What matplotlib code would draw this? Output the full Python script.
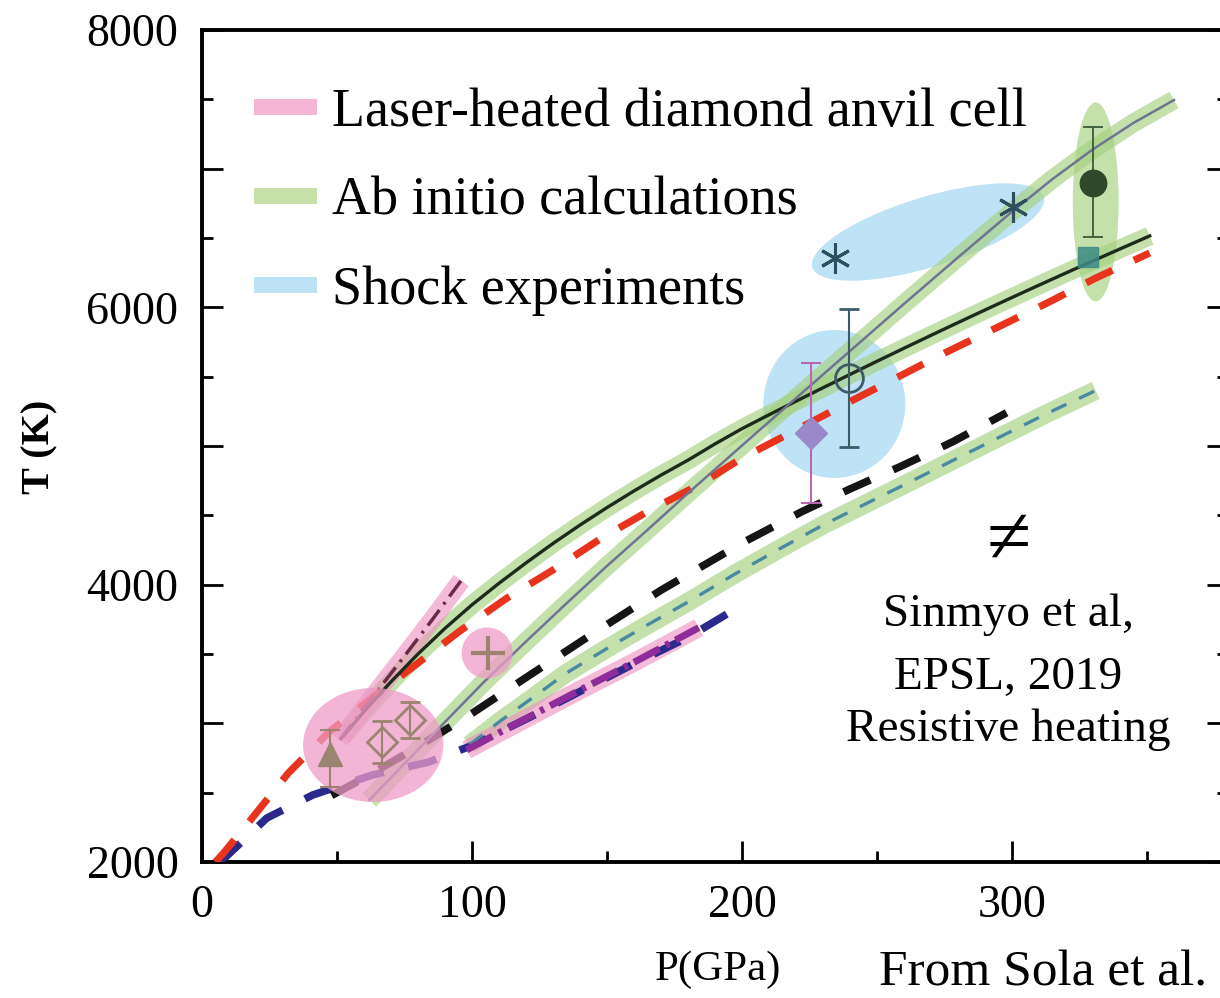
import numpy as np
import matplotlib
matplotlib.use("Agg")
import matplotlib.pyplot as plt
from matplotlib.patches import Ellipse
from matplotlib.lines import Line2D
from matplotlib.transforms import ScaledTranslation
from matplotlib.ticker import FixedLocator, FuncFormatter

plt.rcParams['font.family'] = ['Liberation Serif', 'DejaVu Serif']
plt.rcParams['lines.scale_dashes'] = False

# --- melting curves (P in GPa, T in K) ---
# ab initio, upper curve (solid black)
abi1_p = [52, 60, 70, 80, 90, 100, 110, 120, 130, 140, 150, 160, 170, 180, 190, 200,
          210, 220, 230, 240, 250, 260, 270, 280, 290, 300, 310, 320, 330, 340, 351]
abi1_t = [2900, 3085, 3300, 3500, 3685, 3855, 4010, 4157, 4297, 4430, 4556, 4676, 4790, 4898, 5015, 5125,
          5225, 5323, 5420, 5516, 5611, 5705, 5798, 5890, 5981, 6071, 6160, 6248, 6335, 6421, 6515]
# ab initio, steep curve (slate)
abi2_p = [62, 75, 90, 104, 120, 135, 150, 165, 180, 203, 220, 240, 260, 280, 300, 315, 330, 345, 360]
abi2_t = [2447, 2710, 3010, 3290, 3590, 3865, 4135, 4395, 4660, 5055, 5345, 5685, 6025, 6360, 6690,
          6925, 7140, 7330, 7495]
# ab initio, lower curve (teal dashed)
abi3_p = [99, 110, 120, 135, 150, 165, 180, 198, 215, 230, 245, 259, 278, 296, 313, 331]
abi3_t = [2844, 3010, 3150, 3363, 3540, 3710, 3875, 4084, 4270, 4430, 4575, 4710, 4895, 5070, 5235, 5400]
# red dashed
red_p = [5, 8, 18, 32, 47, 63, 80, 96, 113, 130, 148, 166, 184, 200, 220, 239, 257, 275, 294, 313, 331, 351]
red_t = [2000, 2065, 2303, 2642, 2937, 3183, 3435, 3673, 3904, 4106, 4336, 4538, 4719, 4913,
         5115, 5310, 5490, 5670, 5850, 6031, 6211, 6392]
# black dashed
blk_p = [48, 60, 76, 98, 120, 145, 170, 200, 222, 240, 259, 278, 298]
blk_t = [2480, 2605, 2786, 3046, 3330, 3650, 3960, 4300, 4525, 4690, 4855, 5030, 5240]
# navy dashed
navy_p = [6, 9, 24, 41, 63, 84, 100, 120, 140, 160, 180, 201]
navy_t = [2000, 2040, 2317, 2483, 2627, 2721, 2840, 3030, 3230, 3430, 3620, 3865]
# LH-DAC, lower (purple dash-dot)
lh1_p = [98, 120, 140, 160, 184]
lh1_t = [2808, 3035, 3240, 3440, 3690]
# LH-DAC, upper (maroon dash-dot)
lh2_p = [51, 62, 74, 85, 96]
lh2_t = [2880, 3160, 3460, 3740, 4030]

# --- individual measurements ---
tri_p, tri_t, tri_lo, tri_hi = 47.4, 2780, 240, 170
dia_p = [66.7, 77.1]
dia_t = [2865, 3024]
dia_err = [150, 130]
plus_p, plus_t = 106, 3510
pdia_p, pdia_t, pdia_err = 225.4, 5094, 505
ocirc_p, ocirc_t, ocirc_err = 239.8, 5490, 500
star_p = [234.6, 300.2]
star_t = [6356, 6723]
gdot_p, gdot_t, gdot_lo, gdot_hi = 329.9, 6896, 390, 405
sq_p, sq_t = 328, 6363

legend_labels = ['Laser-heated diamond anvil cell', 'Ab initio calculations', 'Shock experiments']

pink = '#F4B6D4'
green = '#C8E1A8'
blue = '#BEE3F6'
band_green = '#A5D17F'
band_pink = '#EE8FBF'

fig = plt.figure(figsize=(12.2, 9.98), dpi=100)
ax = fig.add_axes([202 / 1220, 136 / 998, 1026 / 1220, 832 / 998])
ax.set_xlim(0, 380)
ax.set_ylim(2000, 8000)

# shock experiment regions
ax.add_patch(Ellipse((234.2, 5303), 52.6, 1067, color=blue, lw=0, zorder=1))
ax.add_patch(Ellipse((0, 0), 2.42, 0.70, angle=17, color=blue, lw=0, zorder=1,
                     transform=fig.dpi_scale_trans + ScaledTranslation(268.9, 6543, ax.transData)))
# ab initio point region
ax.add_patch(Ellipse((331, 6760), 17, 1435, color=band_green, alpha=0.65, lw=0, zorder=2))

# uncertainty bands
for p, t in [(abi1_p, abi1_t), (abi2_p, abi2_t), (abi3_p, abi3_t)]:
    ax.plot(p, t, color=band_green, lw=13.5, alpha=0.65, solid_capstyle='butt', zorder=2)
for p, t in [(lh1_p, lh1_t), (lh2_p, lh2_t)]:
    ax.plot(p, t, color=band_pink, lw=13.5, alpha=0.6, solid_capstyle='butt', zorder=3)

# curves
ax.plot(navy_p, navy_t, color='#2B2A8C', lw=5.5, dashes=(21, 18), zorder=4)
ax.plot(red_p, red_t, color='#E8341C', lw=5.2, dashes=(21, 17), zorder=4)
ax.plot(blk_p, blk_t, color='#151515', lw=5.5, dashes=(21, 18), zorder=4)
ax.plot(abi1_p, abi1_t, color='#1E2A1A', lw=2.4, zorder=4)
ax.plot(abi2_p, abi2_t, color='#6F7590', lw=1.8, zorder=4)
ax.plot(abi3_p, abi3_t, color='#4A8AA0', lw=2.4, dashes=(12, 10), zorder=4)
ax.plot(lh1_p, lh1_t, color='#8E2C9A', lw=5, dashes=(21, 5, 3, 5), zorder=5)
ax.plot(lh2_p, lh2_t, color='#6B2B48', lw=2.5, dashes=(14, 5, 2, 5), zorder=5)

# LH-DAC point regions drawn over the curves
ax.add_patch(Ellipse((63.4, 2844), 51.9, 822, color='#EE9CC8', alpha=0.75, lw=0, zorder=6))
ax.add_patch(Ellipse((105.6, 3507), 18.9, 368, color='#EE9CC8', alpha=0.75, lw=0, zorder=6))

brown = '#9C8470'
ax.errorbar(tri_p, tri_t, yerr=[[tri_lo], [tri_hi]], fmt='^', color=brown, ms=17,
            elinewidth=1.5, capsize=7, capthick=1.5, zorder=7)
ax.errorbar(dia_p, dia_t, yerr=dia_err, fmt='D', mfc='none', mec=brown, ecolor=brown,
            ms=15, mew=2, elinewidth=1.5, capsize=7, capthick=1.5, zorder=7)
ax.plot(plus_p, plus_t, '+', color=brown, ms=24, mew=3, zorder=7)
ax.errorbar(pdia_p, pdia_t, yerr=pdia_err, fmt='D', color='#9A88C8', ecolor='#B868B0',
            ms=16, elinewidth=1.5, capsize=7, capthick=1.5, zorder=7)
ax.errorbar(ocirc_p, ocirc_t, yerr=ocirc_err, fmt='o', mfc='none', mec='#3C5A68', ecolor='#3C5A68',
            ms=20, mew=2, elinewidth=1.5, capsize=7, capthick=2, zorder=7)
ax.plot(star_p, star_t, ls='none', marker=(6, 2, 0), color='#2E4F5E', ms=22, mew=2.2, zorder=7)
ax.errorbar(gdot_p, gdot_t, yerr=[[gdot_lo], [gdot_hi]], fmt='o', color='#2F4A28', ecolor='#3B5A38',
            ms=19, elinewidth=1.3, capsize=7, capthick=1.3, zorder=7)
ax.plot(sq_p, sq_t, 's', color='#3E8A86', alpha=0.85, ms=15, zorder=7)

# legend
handles = [Line2D([], [], color=c, lw=11.5, solid_capstyle='butt') for c in (pink, green, blue)]
ax.legend(handles, legend_labels, loc='upper left', bbox_to_anchor=(0.03, 0.957), frameon=False,
          fontsize=39, handlelength=1.15, handletextpad=0.28, labelspacing=0.71, borderaxespad=0)

# annotations
ax.text(298.7, 4300, '\u2260', fontsize=58, ha='center', va='center')
ax.text(298.7, 3700, 'Sinmyo et al,', fontsize=34, ha='center', va='baseline')
ax.text(298.7, 3245, 'EPSL, 2019', fontsize=34, ha='center', va='baseline')
ax.text(298.7, 2870, 'Resistive heating', fontsize=34, ha='center', va='baseline')

fig.text(718 / 1220, 1 - 970 / 998, 'P(GPa)', fontsize=31, ha='center', va='center')
fig.text(879 / 1220, 1 - 985 / 998, 'From Sola et al.', fontsize=37, ha='left', va='baseline')
fig.text(40 / 1220, 1 - 447 / 998, 'T (K)', fontsize=29, fontweight='bold', rotation=90,
         ha='center', va='center')

# axes styling
ax.xaxis.set_major_locator(FixedLocator([0, 100, 200, 300]))
ax.xaxis.set_minor_locator(FixedLocator([50, 150, 250, 350]))
ax.yaxis.set_major_locator(FixedLocator([2000, 3000, 4000, 5000, 6000, 7000, 8000]))
ax.yaxis.set_minor_locator(FixedLocator(np.arange(2500, 8000, 1000)))
ax.yaxis.set_major_formatter(FuncFormatter(lambda v, pos: f'{int(v)}' if int(v) % 2000 == 0 else ''))
ax.tick_params(which='both', direction='in', right=True, top=False, width=2)
ax.tick_params(which='major', length=15, labelsize=33)
ax.tick_params(which='minor', length=8)
ax.tick_params(axis='y', pad=17)
ax.tick_params(axis='x', pad=16)
for s in ax.spines.values():
    s.set_linewidth(2.8)

plt.savefig('out.png', dpi=100)
